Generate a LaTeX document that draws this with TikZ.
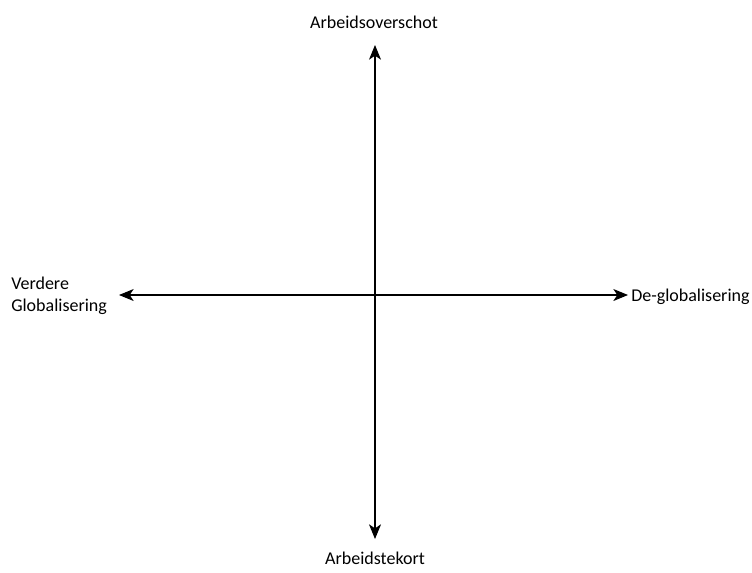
\documentclass[tikz,border=0pt]{standalone}
\usepackage{fontspec}
\setmainfont{Carlito}
\usetikzlibrary{arrows.meta}
\begin{document}
\begin{tikzpicture}[x=0.75pt,y=-0.75pt,
  axis/.style={line width=0.8pt,{Stealth[length=11pt,width=9pt,inset=3pt]}-{Stealth[length=11pt,width=9pt,inset=3pt]}},
  lbl/.style={font=\fontsize{13.5}{16.5}\selectfont,inner sep=0pt}]
\useasboundingbox (0,0) rectangle (752,572);
\coordinate (T) at (375,45);
\coordinate (B) at (375,539);
\coordinate (L) at (119,295);
\coordinate (R) at (628,295);
\draw[axis] (B) -- (T);
\draw[axis] (L) -- (R);
\node[lbl] (top) at (374,22) {Arbeidsoverschot};
\node[lbl] (bot) at (375,558) {Arbeidstekort};
\node[lbl,anchor=west,align=left] (left) at (11,296) {Verdere\\Globalisering};
\node[lbl,anchor=west] (right) at (631,297) {De-globalisering};
\end{tikzpicture}
\end{document}
